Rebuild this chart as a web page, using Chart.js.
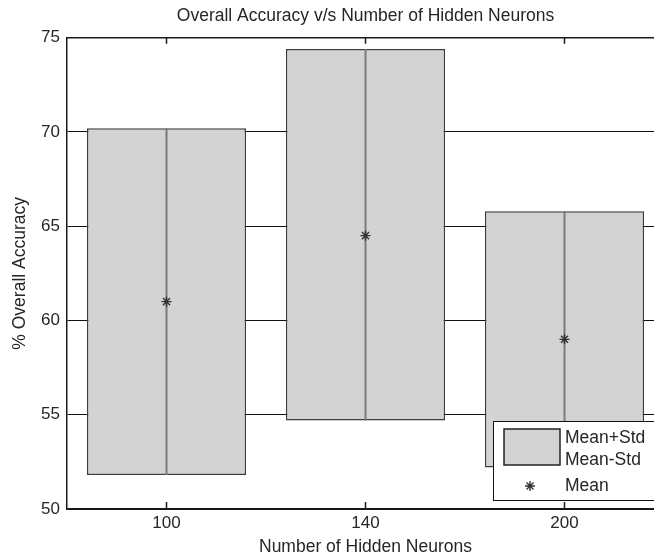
<!DOCTYPE html>
<html>
<head>
<meta charset="utf-8">
<script src="https://cdn.jsdelivr.net/npm/chart.js@4/dist/chart.umd.min.js"></script>
<style>
    html, body { margin: 0; padding: 0; background: #fff; overflow: hidden; }
    canvas { display: block; }
</style>
</head>
<body>
<canvas id="accuracy-chart" width="680" height="560"></canvas>
<script>
const hiddenNeurons = ["100", "140", "200"];
const meanPlusStd = [70.2, 74.4, 65.8];
const meanMinusStd = [51.8, 54.7, 52.2];
const meanAccuracy = [61, 64.5, 59];
const legendLabels = ["Mean+Std", "Mean-Std", "Mean"];

(function () {
    "use strict";

    const fontFamily = "'Liberation Sans', Arial, sans-serif";
    const textColor = "#262626";
    Chart.defaults.font.family = fontFamily;
    Chart.defaults.font.size = 17;
    Chart.defaults.color = textColor;

    const drawStar = (ctx, x, y, r) => {
        ctx.save();
        ctx.strokeStyle = "#333";
        ctx.lineWidth = 1.4;
        ctx.beginPath();
        ctx.moveTo(x - r, y); ctx.lineTo(x + r, y);
        ctx.moveTo(x, y - r); ctx.lineTo(x, y + r);
        const d = r * 0.7;
        ctx.moveTo(x - d, y - d); ctx.lineTo(x + d, y + d);
        ctx.moveTo(x - d, y + d); ctx.lineTo(x + d, y - d);
        ctx.stroke();
        ctx.restore();
    };

    // vertical line through the middle of each bar
    const centerLines = {
        id: "centerLines",
        afterDatasetDraw(chart, args) {
            if (args.index !== 0) return;
            const ctx = chart.ctx;
            ctx.save();
            ctx.strokeStyle = "#7a7a7a";
            ctx.lineWidth = 2;
            args.meta.data.forEach(bar => {
                ctx.beginPath();
                ctx.moveTo(bar.x, bar.base);
                ctx.lineTo(bar.x, bar.y);
                ctx.stroke();
            });
            ctx.restore();
        },
    };

    // matlab style box: top edge + inward ticks, and the legend
    const matlabBox = {
        id: "matlabBox",
        afterDraw(chart) {
            const ctx = chart.ctx;
            const area = chart.chartArea;
            const xScale = chart.scales.x;
            ctx.save();
            ctx.strokeStyle = "#1a1a1a";
            ctx.lineWidth = 1.5;
            ctx.beginPath();
            ctx.moveTo(area.left, area.top);
            ctx.lineTo(area.right, area.top);
            xScale.ticks.forEach((t, i) => {
                const px = xScale.getPixelForTick(i);
                ctx.moveTo(px, area.bottom);
                ctx.lineTo(px, area.bottom - 7);
                ctx.moveTo(px, area.top);
                ctx.lineTo(px, area.top + 6);
            });
            ctx.stroke();

            // legend
            ctx.fillStyle = "#fff";
            ctx.fillRect(493.5, 421.5, 200, 79);
            ctx.lineWidth = 1;
            ctx.strokeStyle = "#111";
            ctx.strokeRect(493.5, 421.5, 200, 79);
            ctx.fillStyle = "#d3d3d3";
            ctx.fillRect(504, 429, 56, 36);
            ctx.lineWidth = 1.5;
            ctx.strokeStyle = "#222";
            ctx.strokeRect(504, 429, 56, 36);
            drawStar(ctx, 530, 486, 5);
            ctx.fillStyle = textColor;
            ctx.font = "17.5px " + fontFamily;
            ctx.textBaseline = "middle";
            ctx.textAlign = "left";
            ctx.fillText(legendLabels[0], 565, 438);
            ctx.fillText(legendLabels[1], 565, 460);
            ctx.fillText(legendLabels[2], 565, 486);
            ctx.restore();
        },
    };

    const ctx = document.getElementById("accuracy-chart").getContext("2d");
    new Chart(ctx, {
        type: "bar",
        data: {
            labels: hiddenNeurons,
            datasets: [
                {
                    type: "bar",
                    label: "Mean+Std / Mean-Std",
                    data: hiddenNeurons.map((_, i) => [meanMinusStd[i], meanPlusStd[i]]),
                    backgroundColor: "#d3d3d3",
                    borderColor: "#3c3c3c",
                    borderWidth: 1.5,
                    borderSkipped: false,
                    categoryPercentage: 1,
                    barPercentage: 0.8,
                    order: 2,
                },
                {
                    type: "line",
                    label: "Mean",
                    data: meanAccuracy,
                    showLine: false,
                    pointStyle: "star",
                    pointRadius: 5,
                    pointBorderColor: "#333",
                    pointBorderWidth: 1.4,
                    order: 1,
                },
            ],
        },
        options: {
            responsive: false,
            animation: false,
            layout: { padding: { left: 0, right: 16, top: 0, bottom: 0 } },
            plugins: {
                legend: { display: false },
                tooltip: { enabled: false },
                title: {
                    display: true,
                    fullSize: false,
                    text: "Overall Accuracy v/s Number of Hidden Neurons",
                    font: { size: 17.5, weight: "normal" },
                    color: textColor,
                    padding: { top: 6, bottom: 10.7 },
                },
            },
            scales: {
                x: {
                    grid: { display: false, drawTicks: false },
                    border: { display: true, color: "#1a1a1a", width: 1.5 },
                    ticks: { padding: 4, color: textColor },
                    title: {
                        display: true,
                        text: "Number of Hidden Neurons",
                        color: textColor,
                        font: { size: 17.5 },
                        padding: { top: 0, bottom: 2 },
                    },
                    afterFit: (scale) => { scale.height = 51; },
                },
                y: {
                    min: 50,
                    max: 75,
                    grid: { color: "#111", lineWidth: 1, drawTicks: false },
                    border: { display: true, color: "#1a1a1a", width: 1.5 },
                    ticks: { stepSize: 5, padding: 7, color: textColor },
                    title: {
                        display: true,
                        text: "% Overall Accuracy",
                        color: textColor,
                        font: { size: 17.5 },
                        padding: { top: 9.5, bottom: 0 },
                    },
                    afterFit: (scale) => { scale.width = 67; },
                },
            },
        },
        plugins: [centerLines, matlabBox],
    });
})();
</script>
</body>
</html>
